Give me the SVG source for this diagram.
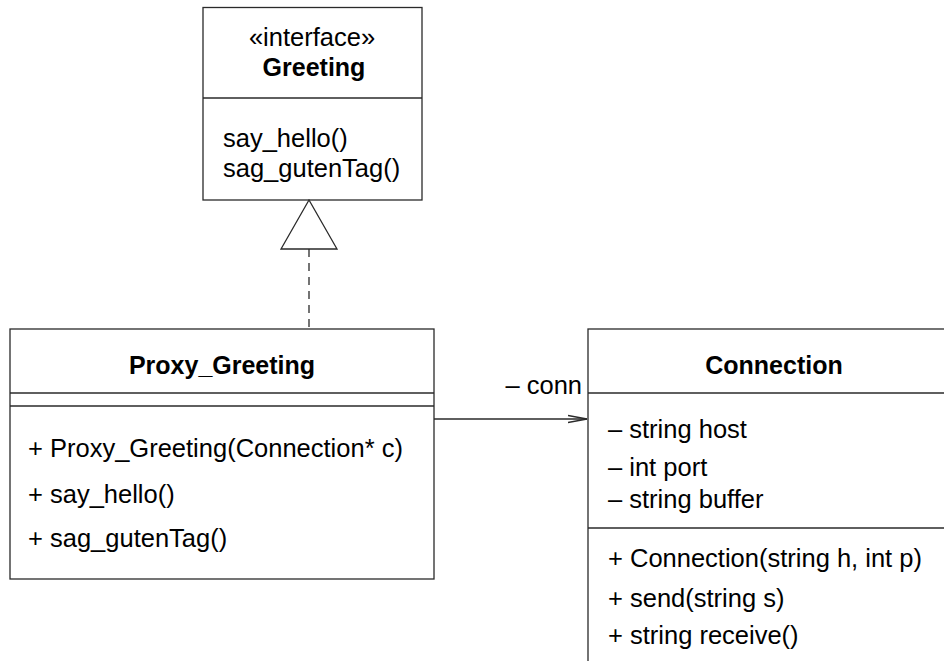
<svg xmlns="http://www.w3.org/2000/svg" width="944" height="661" viewBox="0 0 944 661">
  <style>
    .box { fill: #ffffff; stroke: #2a2a2a; stroke-width: 1.3; }
    .sep { stroke: #2a2a2a; stroke-width: 1.3; }
    .txt { font-family: "Liberation Sans", Arial, sans-serif; font-size: 25.5px; fill: #000; }
    .title { font-family: "Liberation Sans", Arial, sans-serif; font-size: 25px; font-weight: bold; fill: #000; text-anchor: middle; }
    .mid { text-anchor: middle; }
    .edge { fill: none; stroke: #2a2a2a; stroke-width: 1.3; }
  </style>
  <defs>
    <marker id="open-arrow" markerWidth="20" markerHeight="10" refX="19" refY="5" orient="auto" markerUnits="userSpaceOnUse">
      <path d="M0,1.5 L19,5 L0,8.5" fill="none" stroke="#2a2a2a" stroke-width="1.3"/>
    </marker>
  </defs>
  <rect width="944" height="661" fill="#ffffff"/>

  <!-- interface Greeting -->
  <g id="greeting">
    <rect class="box" x="203" y="7.5" width="219" height="192.5"/>
    <line class="sep" x1="203" y1="98" x2="422" y2="98"/>
    <text class="txt mid" x="312" y="46">«interface»</text>
    <text class="title" x="314" y="76">Greeting</text>
    <text class="txt" x="223" y="147">say_hello()</text>
    <text class="txt" x="223" y="177">sag_gutenTag()</text>
  </g>

  <!-- class Proxy_Greeting -->
  <g id="proxy-greeting">
    <rect class="box" x="10" y="329" width="424" height="250"/>
    <line class="sep" x1="10" y1="393" x2="434" y2="393"/>
    <line class="sep" x1="10" y1="406" x2="434" y2="406"/>
    <text class="title" x="222" y="374">Proxy_Greeting</text>
    <text class="txt" x="28" y="457">+ Proxy_Greeting(Connection* c)</text>
    <text class="txt" x="28" y="502.5">+ say_hello()</text>
    <text class="txt" x="28" y="547">+ sag_gutenTag()</text>
  </g>

  <!-- class Connection -->
  <g id="connection">
    <rect class="box" x="588" y="329" width="372" height="345"/>
    <line class="sep" x1="588" y1="393" x2="960" y2="393"/>
    <line class="sep" x1="588" y1="528" x2="960" y2="528"/>
    <text class="title" x="774" y="374">Connection</text>
    <text class="txt" x="608" y="438">– string host</text>
    <text class="txt" x="608" y="475.5">– int port</text>
    <text class="txt" x="608" y="508">– string buffer</text>
    <text class="txt" x="608" y="567">+ Connection(string h, int p)</text>
    <text class="txt" x="608" y="606.5">+ send(string s)</text>
    <text class="txt" x="608" y="643.5">+ string receive()</text>
  </g>

  <!-- connectors -->
  <g id="connectors">
    <!-- realization: Proxy_Greeting implements Greeting -->
    <line class="edge" x1="309" y1="249" x2="309" y2="329" stroke-dasharray="8,6"/>
    <polygon points="309,200 281,249 337,249" fill="#ffffff" stroke="#2a2a2a" stroke-width="1.3"/>
    <!-- navigable association to Connection -->
    <line class="edge" x1="434" y1="419" x2="587" y2="419" marker-end="url(#open-arrow)"/>
    <text class="txt" x="582" y="394" text-anchor="end">– conn</text>
  </g>
</svg>
